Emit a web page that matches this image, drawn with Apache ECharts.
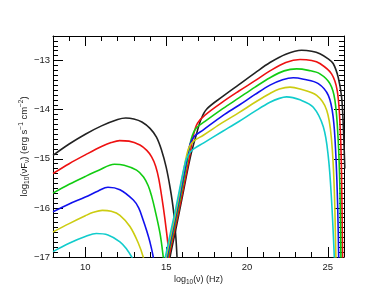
<!DOCTYPE html>
<html><head><meta charset="utf-8">
<script src="https://cdn.jsdelivr.net/npm/echarts@6/dist/echarts.min.js"></script>
<style>html,body{margin:0;padding:0;background:#fff}#c{width:374px;height:299px}</style>
</head><body><div id="c"></div>
<script>
// Axis ranges and ticks
const xRange = [8, 26];
const yRange = [-17, -12.5];
const xMajorTicks = [10, 15, 20, 25];
const yMajorTicks = [-17, -16, -15, -14, -13];

// Curve colours (order: black, red, green, blue, yellow, cyan)
const colors = ['#222222', '#ee1111', '#11cc11', '#1111ee', '#cccc11', '#11cccc'];

// Synchrotron component [log10 nu, log10 nuFnu]
const syncBlack = [[8,-14.93],[9,-14.7],[10,-14.5],[11,-14.33],[12,-14.2],[12.5,-14.17],[13.0,-14.19],[13.5,-14.25],[14.0,-14.38],[14.4,-14.56],[14.72,-14.83],[15.0,-15.17],[15.25,-15.6],[15.45,-16.05],[15.6,-16.6],[15.7,-17.2]];
const syncRed = [[8,-15.3],[9,-15.1],[10,-14.92],[11,-14.75],[11.6,-14.67],[12.12,-14.63],[12.7,-14.64],[13.38,-14.72],[13.8,-14.83],[14.1,-14.96],[14.35,-15.15],[14.55,-15.42],[14.82,-15.98],[15.03,-16.51],[15.19,-17],[15.3,-17.4]];
const syncGreen = [[8,-15.7],[9,-15.52],[10,-15.36],[10.8,-15.24],[11.8,-15.11],[12.4,-15.13],[13.17,-15.23],[13.6,-15.37],[13.89,-15.55],[14.1,-15.76],[14.31,-16.04],[14.62,-16.52],[14.82,-17],[14.95,-17.4]];
const syncBlue = [[8,-16.08],[9,-15.92],[10,-15.78],[10.8,-15.655],[11.4,-15.58],[12.14,-15.63],[12.97,-15.84],[13.3,-16.0],[13.58,-16.25],[13.8,-16.47],[14.0,-16.7],[14.2,-17],[14.3,-17.3]];
const syncYellow = [[8,-16.49],[9,-16.32],[10,-16.16],[10.5,-16.09],[11.05,-16.05],[11.6,-16.07],[12.14,-16.15],[12.76,-16.38],[13.28,-16.72],[13.58,-17],[13.7,-17.2]];
const syncCyan = [[8,-16.89],[9,-16.72],[10,-16.585],[10.68,-16.52],[11.4,-16.55],[12.14,-16.69],[12.56,-16.84],[12.87,-17],[13.0,-17.1]];

// Inverse-Compton component
const sscBlack = [[15.1,-17.3],[15.24,-17],[15.6,-16.43],[15.96,-15.84],[16.5,-14.96],[16.88,-14.49],[17.15,-14.2],[17.5,-13.99],[18.5,-13.73],[19.5,-13.49],[20.5,-13.25],[21.42,-13.04],[22.4,-12.87],[23.38,-12.79],[24.0,-12.81],[24.51,-12.86],[25.0,-12.96],[25.33,-13.06],[25.64,-13.34],[25.85,-13.74],[25.95,-14.28],[26.05,-15.2]];
const sscRed = [[15.03,-17.3],[15.17,-17],[15.82,-16],[16.42,-15.0],[16.7,-14.5],[16.95,-14.27],[17.4,-14.11],[18.5,-13.84],[19.5,-13.62],[20.5,-13.41],[21.42,-13.21],[22.4,-13.04],[23.28,-12.98],[24.0,-13.0],[24.51,-13.06],[25.23,-13.27],[25.58,-13.61],[25.75,-14.28],[25.85,-15.3],[25.91,-17],[25.95,-17.5]];
const sscGreen = [[14.96,-17.3],[15.1,-17],[15.75,-16],[16.33,-15.0],[16.55,-14.6],[16.85,-14.38],[17.4,-14.24],[18.5,-13.98],[19.5,-13.76],[20.5,-13.54],[21.42,-13.35],[22.3,-13.21],[23.07,-13.17],[23.8,-13.2],[24.51,-13.27],[25.13,-13.47],[25.44,-13.81],[25.64,-14.62],[25.75,-15.64],[25.81,-17],[25.85,-17.5]];
const sscBlue = [[14.9,-17.3],[15.05,-17],[15.7,-16],[16.28,-15.0],[16.48,-14.7],[16.75,-14.54],[17.3,-14.41],[18.5,-14.12],[19.5,-13.91],[20.5,-13.69],[21.42,-13.5],[22.2,-13.39],[22.86,-13.35],[23.5,-13.38],[24.41,-13.47],[25.03,-13.71],[25.33,-14.15],[25.5,-14.96],[25.61,-15.98],[25.67,-17],[25.7,-17.5]];
const sscYellow = [[14.85,-17.3],[15.0,-17],[15.65,-16],[16.22,-15.0],[16.42,-14.76],[16.7,-14.64],[17.3,-14.52],[18.5,-14.26],[19.5,-14.06],[20.5,-13.85],[21.42,-13.67],[22.0,-13.58],[22.66,-13.54],[23.28,-13.58],[24.31,-13.71],[24.93,-14.01],[25.23,-14.62],[25.4,-15.64],[25.5,-17],[25.55,-17.5]];
const sscCyan = [[14.8,-17.3],[14.95,-17],[15.6,-16],[16.2,-15.05],[16.42,-14.9],[16.7,-14.8],[17.3,-14.68],[18.5,-14.44],[19.5,-14.24],[20.5,-14.03],[21.42,-13.85],[22.0,-13.77],[22.45,-13.74],[23.28,-13.8],[24.1,-13.95],[24.72,-14.35],[25.03,-14.96],[25.23,-15.84],[25.4,-17],[25.45,-17.5]];

const syncAll = [syncBlack, syncRed, syncGreen, syncBlue, syncYellow, syncCyan];
const sscAll = [sscBlack, sscRed, sscGreen, sscBlue, sscYellow, sscCyan];

const xMinorTicks = [];
for (let v = xRange[0]; v <= xRange[1]; v++) if (xMajorTicks.indexOf(v) < 0) xMinorTicks.push(v);
const yMinorTicks = [];
for (let i = -170; i <= -125; i++) if (i % 10 !== 0) yMinorTicks.push(i / 10);

const FONT = 'Liberation Sans, Arial, sans-serif';
const minus = v => (v < 0 ? '\u2212' + Math.abs(v) : String(v));

function xAx(pos, ticks, len, labels, line) {
  return {
    type: 'value', position: pos, min: xRange[0], max: xRange[1],
    axisLine: { show: line, lineStyle: { color: '#000', width: 1 } },
    axisTick: { show: true, inside: true, length: len, customValues: ticks, lineStyle: { color: '#000', width: 1 } },
    axisLabel: labels ? { show: true, customValues: xMajorTicks, formatter: minus, color: '#222', fontFamily: FONT, fontSize: 9.5, margin: 5 } : { show: false },
    splitLine: { show: false }
  };
}
function yAx(pos, ticks, len, labels, line) {
  return {
    type: 'value', position: pos, min: yRange[0], max: yRange[1],
    axisLine: { show: line, lineStyle: { color: '#000', width: 1 } },
    axisTick: { show: true, inside: true, length: len, customValues: ticks, lineStyle: { color: '#000', width: 1 } },
    axisLabel: labels ? { show: true, customValues: yMajorTicks, formatter: minus, color: '#222', fontFamily: FONT, fontSize: 9.5, margin: 3 } : { show: false },
    splitLine: { show: false }
  };
}

const xAxes = [xAx('bottom', xMinorTicks, 5, true, true), xAx('bottom', xMajorTicks, 10, false, false), xAx('top', xMinorTicks, 5, false, true), xAx('top', xMajorTicks, 10, false, false)];
const yAxes = [yAx('left', yMinorTicks, 5, true, true), yAx('left', yMajorTicks, 10, false, false), yAx('right', yMinorTicks, 5, false, true), yAx('right', yMajorTicks, 10, false, false)];

xAxes[0].name = '{a|log}{s|10}{a|(\u03bd) (Hz)}';
xAxes[0].nameLocation = 'middle';
xAxes[0].nameGap = 16;
xAxes[0].nameMoveOverlap = false;
xAxes[0].nameTextStyle = { rich: {
  a: { fontFamily: FONT, fontSize: 9, color: '#222', lineHeight: 13, verticalAlign: 'middle' },
  s: { fontFamily: FONT, fontSize: 6.5, color: '#222', lineHeight: 13, verticalAlign: 'bottom' } } };

yAxes[0].name = '{a|log}{s|10}{a|(\u03bdF}{s|\u03bd}{a|) (erg s}{p|\u22121}{a| cm}{p|\u22122}{a|)}';
yAxes[0].nameLocation = 'middle';
yAxes[0].nameRotate = 90;
yAxes[0].nameGap = 22;
yAxes[0].nameMoveOverlap = false;
yAxes[0].nameTextStyle = { rich: {
  a: { fontFamily: FONT, fontSize: 9.5, color: '#222', lineHeight: 13, verticalAlign: 'middle' },
  s: { fontFamily: FONT, fontSize: 6.5, color: '#222', lineHeight: 13, verticalAlign: 'bottom' },
  p: { fontFamily: FONT, fontSize: 6.5, color: '#222', lineHeight: 13, verticalAlign: 'top' } } };

const series = [];
for (let i = 0; i < 6; i++) {
  [syncAll[i], sscAll[i]].forEach(d => series.push({
    type: 'line', data: d, xAxisIndex: 0, yAxisIndex: 0, showSymbol: false, symbol: 'none',
    smooth: 0.35, clip: true, silent: true, animation: false,
    lineStyle: { color: colors[i], width: 1.6 }
  }));
}

const chart = echarts.init(document.getElementById('c'), null, { renderer: 'canvas' });
chart.setOption({
  animation: false,
  backgroundColor: '#fff',
  grid: { left: 53, right: 30, top: 36, bottom: 42, containLabel: false },
  xAxis: xAxes,
  yAxis: yAxes,
  series: series
});
</script></body></html>
